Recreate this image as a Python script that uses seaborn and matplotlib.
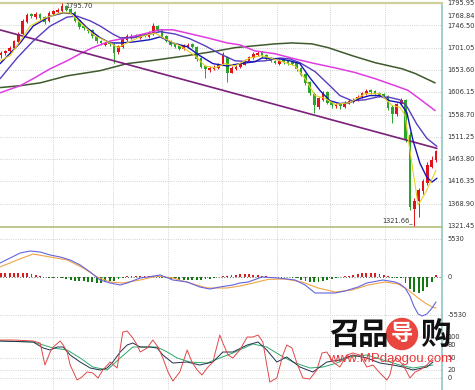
import numpy as np
import matplotlib
matplotlib.use("Agg")
import matplotlib.pyplot as plt
from matplotlib.patches import Ellipse
import seaborn as sns

sns.set_style("white")
plt.rcParams['font.family'] = ['DejaVu Sans']

# ---------------- candle data (one per bar) ----------------
opens = [1685, 1690, 1694, 1701, 1713, 1730, 1756, 1773, 1766, 1773,
         1766, 1757, 1773, 1777, 1779, 1789, 1783, 1777, 1760, 1747,
         1741, 1738, 1726, 1716, 1707, 1713, 1709, 1692, 1703, 1718,
         1722, 1728, 1722, 1730, 1724, 1730, 1747, 1738, 1726, 1716,
         1709, 1705, 1698, 1703, 1709, 1703, 1679, 1662, 1654, 1656,
         1658, 1665, 1681, 1648, 1656, 1660, 1665, 1673, 1679, 1686,
         1692, 1686, 1679, 1673, 1667, 1675, 1673, 1671, 1669, 1658,
         1645, 1628, 1603, 1575, 1590, 1607, 1586, 1576, 1582, 1574,
         1582, 1586, 1590, 1595, 1603, 1611, 1609, 1605, 1603, 1599,
         1575, 1560, 1582, 1590, 1515, 1358, 1374, 1396, 1412, 1448,
         1462]
closes = [1690, 1694, 1701, 1715, 1730, 1758, 1770, 1768, 1772, 1764,
          1756, 1775, 1779, 1781, 1789, 1781, 1775, 1758, 1745, 1743,
          1736, 1726, 1715, 1711, 1711, 1709, 1690, 1705, 1720, 1726,
          1726, 1724, 1728, 1726, 1732, 1747, 1736, 1724, 1715, 1707,
          1703, 1698, 1705, 1707, 1703, 1677, 1660, 1656, 1658, 1660,
          1667, 1686, 1648, 1658, 1660, 1667, 1673, 1681, 1688, 1690,
          1684, 1677, 1673, 1669, 1673, 1671, 1669, 1667, 1656, 1643,
          1626, 1605, 1578, 1593, 1605, 1584, 1578, 1580, 1576, 1584,
          1588, 1590, 1597, 1605, 1609, 1607, 1603, 1601, 1599, 1573,
          1560, 1582, 1590, 1505, 1362, 1374, 1398, 1418, 1452, 1462,
          1480]
highs = [1694, 1697, 1705, 1718, 1734, 1762, 1775, 1775, 1776, 1775,
         1768, 1778, 1782, 1785, 1795.7, 1791, 1785, 1779, 1762, 1750,
         1743, 1740, 1728, 1718, 1714, 1716, 1711, 1707, 1722, 1730,
         1729, 1730, 1731, 1732, 1736, 1753, 1749, 1740, 1728, 1718,
         1711, 1707, 1709, 1711, 1711, 1705, 1681, 1665, 1662, 1663,
         1669, 1692, 1683, 1661, 1663, 1669, 1676, 1684, 1691, 1694,
         1694, 1688, 1681, 1675, 1676, 1677, 1675, 1673, 1671, 1660,
         1648, 1630, 1606, 1596, 1608, 1609, 1588, 1584, 1584, 1587,
         1591, 1593, 1600, 1607, 1612, 1613, 1611, 1607, 1605, 1601,
         1578, 1584, 1594, 1592, 1522, 1380, 1402, 1422, 1458, 1470,
         1484]
lows = [1680, 1686, 1690, 1699, 1711, 1728, 1754, 1764, 1762, 1760,
        1752, 1755, 1771, 1775, 1777, 1779, 1773, 1755, 1741, 1739,
        1732, 1722, 1711, 1707, 1705, 1705, 1669, 1688, 1701, 1716,
        1720, 1722, 1720, 1724, 1722, 1728, 1734, 1722, 1713, 1705,
        1701, 1696, 1696, 1701, 1701, 1673, 1658, 1637, 1650, 1654,
        1656, 1663, 1628, 1646, 1654, 1658, 1663, 1671, 1677, 1684,
        1681, 1675, 1671, 1667, 1665, 1667, 1665, 1663, 1652, 1641,
        1622, 1601, 1562, 1571, 1588, 1580, 1573, 1573, 1570, 1572,
        1580, 1584, 1588, 1593, 1601, 1603, 1599, 1597, 1595, 1568,
        1541, 1556, 1578, 1500, 1355, 1321.66, 1340, 1390, 1408, 1444,
        1458]

# ---------------- moving averages (bar position, price) ----------------
ma5_x = [-0.2, 2.1, 4.4, 6.7, 10.1, 13.6, 15.9, 18.2, 21.6, 25.1, 26.9, 28.5, 32.0, 35.4,
         37.7, 41.1, 44.6, 46.9, 49.2, 51.5, 53.8, 57.2, 60.0, 64.1, 67.6, 69.9, 72.2, 74.5,
         76.8, 80.2, 83.7, 87.1, 89.9, 91.7, 92.9, 94.0, 95.9, 97.5, 98.6, 100.0]
ma5_y = [1673, 1684, 1715, 1747, 1764, 1775, 1775, 1754, 1726, 1711, 1701, 1709, 1724, 1732,
         1720, 1705, 1684, 1662, 1658, 1667, 1662, 1679, 1684, 1673, 1662, 1635, 1599, 1593,
         1580, 1584, 1603, 1603, 1578, 1574, 1557, 1482, 1366, 1391, 1412, 1440]
ma10_x = [-0.2, 4.4, 7.4, 11.3, 14.3, 16.6, 19.8, 22.8, 25.1, 27.4, 30.3, 34.3, 36.6, 39.5,
          42.8, 45.7, 48.7, 52.0, 54.9, 58.4, 60.0, 64.1, 66.4, 68.7, 71.0, 73.3, 75.6, 77.9,
          80.2, 82.5, 84.8, 87.1, 89.4, 91.7, 93.3, 94.7, 96.3, 97.9, 99.1, 100.2]
ma10_y = [1667, 1711, 1747, 1768, 1775, 1773, 1743, 1722, 1711, 1711, 1713, 1718, 1724, 1711,
          1703, 1684, 1667, 1662, 1667, 1671, 1679, 1677, 1673, 1667, 1637, 1610, 1588, 1582,
          1584, 1593, 1599, 1599, 1588, 1584, 1563, 1504, 1455, 1425, 1415, 1423]
ma20_x = [-0.2, 3.7, 7.4, 11.3, 15.2, 17.5, 20.5, 22.8, 25.7, 27.4, 30.3, 34.3, 36.6, 40.0,
          43.4, 46.9, 50.3, 53.8, 57.2, 60.7, 64.1, 66.4, 68.7, 72.2, 75.6, 77.9, 80.7, 83.7,
          87.1, 89.4, 91.7, 93.3, 95.6, 97.9, 100.2]
ma20_y = [1635, 1679, 1715, 1747, 1766, 1768, 1758, 1747, 1730, 1722, 1722, 1730, 1735, 1730,
          1720, 1705, 1688, 1673, 1671, 1673, 1679, 1677, 1669, 1650, 1620, 1599, 1588, 1590,
          1597, 1595, 1590, 1576, 1538, 1508, 1491]
ma60_x = [-0.2, 4.4, 7.4, 11.3, 15.2, 18.2, 21.1, 25.1, 29.0, 33.6, 36.6, 39.5, 42.8, 47.4,
          52.0, 54.9, 58.4, 63.0, 67.6, 72.2, 76.8, 81.4, 86.0, 90.6, 93.6, 96.8, 99.8]
ma60_y = [1605, 1620, 1635, 1656, 1673, 1688, 1701, 1715, 1722, 1732, 1739, 1739, 1732, 1722,
          1711, 1707, 1694, 1688, 1677, 1667, 1658, 1648, 1635, 1620, 1610, 1588, 1567]
ma120_x = [-0.2, 4.4, 9.0, 15.2, 22.8, 29.0, 34.3, 42.8, 49.7, 53.8, 58.4, 63.0, 66.9, 71.5,
           75.2, 80.7, 86.0, 92.2, 95.2, 99.8]
ma120_y = [1616, 1620, 1626, 1641, 1652, 1667, 1673, 1684, 1694, 1701, 1705, 1709, 1711, 1709,
           1701, 1684, 1669, 1656, 1646, 1626]
trend_x = [-0.2, 100.2]
trend_y = [1738.7, 1486.7]

# ---------------- MACD ----------------
macd_hist = [503, 503, 574, 574, 574, 503, 503, 431, 287, 72,
             -43, -72, -115, -172, -215, -359, -431, -503, -574, -646,
             -718, -790, -862, -862, -790, -646, -574, -359, -144, 72,
             144, 215, 215, 215, 215, 215, 144, -72, -172, -287,
             -359, -431, -431, -431, -431, -431, -431, -359, -287, -144,
             -43, 72, 215, 287, 359, 431, 431, 431, 359, 287,
             215, 72, 43, 29, 29, 29, -29, -72, -215, -431,
             -574, -718, -790, -718, -574, -431, -287, -144, -43, 72,
             215, 287, 431, 503, 574, 574, 503, 431, 287, 144,
             -72, -144, -215, -862, -1723, -2154, -2298, -2010, -1436, -718,
             287]
dif_x = [-0.2, 2.1, 4.4, 6.7, 9.0, 11.3, 13.6, 15.9, 18.2, 20.5, 22.8, 25.1, 27.4, 29.0,
         32.0, 35.2, 36.6, 39.5, 42.8, 45.7, 48.0, 50.3, 53.3, 54.9, 56.8, 60.0, 63.7, 67.6,
         69.9, 72.2, 74.5, 76.8, 79.1, 82.1, 84.1, 87.8, 90.6, 91.7, 92.9, 94.0, 94.9, 95.9,
         96.8, 97.9, 99.1, 100.0]
dif_y = [2010, 2728, 3446, 3734, 3590, 3159, 2872, 2441, 1723, 718, -431, -862, -1149, -862,
         -144, 144, 287, -431, -718, -1436, -1723, -1436, -1149, -862, -718, 0, -144, -431,
         -1149, -2298, -2298, -2298, -2010, -1436, -862, -431, -718, -1005, -1580, -2728, -4164,
         -5314, -5601, -5314, -4452, -3590]
dea_x = [-0.2, 3.7, 7.4, 11.3, 15.2, 18.9, 22.1, 25.1, 28.0, 32.0, 35.9, 39.5, 43.4, 47.4,
         52.0, 54.9, 57.7, 61.4, 65.3, 69.2, 72.9, 76.8, 80.7, 84.4, 88.3, 91.3, 93.6, 95.9,
         97.5, 99.1, 100.0]
dea_y = [1436, 2441, 3302, 2872, 2441, 1292, 0, -718, -862, -431, 144, -144, -862, -1580,
         -1580, -1300, -900, -350, -287, -718, -1580, -2154, -1867, -1149, -718, -1005, -1867,
         -3015, -3734, -4308, -4452]

# ---------------- KDJ ----------------
j_x = [-0.2, 2.8, 7.4, 9.0, 10.1, 11.3, 12.0, 13.6, 14.3, 15.2, 15.9, 17.5, 18.6, 19.8, 21.1,
       22.3, 23.4, 25.1, 26.7, 28.0, 29.0, 30.3, 31.3, 32.0, 33.6, 34.9, 36.1, 37.2, 38.4, 39.5,
       41.1, 42.8, 43.9, 45.1, 46.2, 47.4, 48.7, 50.3, 51.0, 52.2, 53.3, 54.9, 56.6, 57.9, 59.1,
       60.2, 61.1, 61.8, 63.4, 64.8, 65.7, 66.9, 68.0, 69.4, 71.0, 72.6, 73.8, 74.9, 76.3, 77.9,
       79.5, 80.9, 82.5, 84.1, 85.5, 87.1, 88.7, 89.4, 90.1, 91.0, 92.4, 93.3, 94.0, 95.2, 96.3,
       97.9, 99.3]
j_y = [92.7, 92.7, 90.3, 85.4, 31.7, 63.4, 75.6, 90.3, 80.5, 63.4, 31.7, -4.9, 2.4, 14.6, 12.2,
       0, 19.5, 39, 24.4, 112.2, 114.7, 97.6, 80.5, 63.4, 73.2, 92.7, 75.6, 48.8, 14.6, -7.3,
       14.6, 68.3, 39, 19.5, 7.3, 24.4, 39, 104.9, 85.4, 56.1, 48.8, 68.3, 100, 100, 104.9,
       87.8, 31.7, -9.8, 0, 56.1, 80.5, 73.2, 36.6, 0, -2.4, 19.5, 61, 63.4, 39, 26.8,
       56.1, 61, 56.1, 26.8, 31.7, 12.2, -4.9, 7.3, 39, 48.8, 31.7, 14.6, 0, 14.6, 19.5,
       31.7, 48.8]
k_x = [-0.2, 7.4, 9.7, 11.3, 12.9, 14.3, 15.9, 18.2, 20.5, 22.8, 24.4, 25.7, 27.4, 29.0, 30.3,
       32.0, 34.3, 35.9, 37.2, 39.5, 42.8, 45.7, 48.7, 51.0, 53.3, 56.6, 59.1, 61.1, 63.4, 65.7,
       68.7, 71.7, 74.9, 77.9, 80.9, 84.1, 87.1, 90.1, 92.4, 94.7, 97.9, 99.3]
k_y = [90.3, 87.8, 73.2, 68.3, 75.6, 75.6, 56.1, 39, 24.4, 19.5, 24.4, 39, 63.4, 80.5, 85.4,
       75.6, 75.6, 73.2, 56.1, 36.6, 39, 31.7, 39, 63.4, 63.4, 80.5, 87.8, 68.3, 39, 51.2,
       26.8, 14.6, 39, 43.9, 56.1, 48.8, 36.6, 31.7, 26.8, 19.5, 26.8, 39]
d_x = [-0.2, 7.4, 9.7, 12.0, 15.2, 18.2, 21.1, 24.4, 27.4, 30.3, 32.6, 35.9, 38.2, 40.5, 43.4,
       47.4, 50.3, 53.3, 57.9, 61.1, 64.1, 67.1, 71.0, 74.0, 77.2, 80.2, 84.1, 87.8, 91.7, 94.7,
       99.3]
d_y = [90.3, 87.8, 80.5, 73.2, 68.3, 48.8, 26.8, 19.5, 48.8, 75.6, 75.6, 75.6, 63.4, 48.8, 39,
       36.6, 48.8, 61, 83, 75.6, 56.1, 39, 24.4, 26.8, 36.6, 51.2, 56.1, 43.9, 31.7, 24.4,
       31.7]

# ---------------- axis labels ----------------
price_labels = [1795.95, 1768.84, 1746.50, 1701.05, 1653.60, 1606.15, 1558.70,
                1511.25, 1463.80, 1416.35, 1368.90, 1321.45]
price_grid = [1748.50, 1701.05, 1653.60, 1606.15, 1558.70, 1511.25, 1463.80, 1416.35, 1368.90]
macd_labels = [5530, 0, -5530]
kdj_labels = [100, 80, 50, 20, 0]
kdj_grid = [100, 50, 20, 0]
vgrid = [12.0, 25.7, 38.4, 50.8, 63.4, 75.6, 88.3]

RED = '#e0141a'
GREEN = '#2aa52a'

W, H = 475, 390
fig = plt.figure(figsize=(4.75, 3.9), dpi=100)


def rect(x0, y0, x1, y1):
    return [x0 / W, 1 - y1 / H, (x1 - x0) / W, (y1 - y0) / H]


ax = fig.add_axes(rect(0, 3, 442, 227))
axm = fig.add_axes(rect(0, 228, 442, 326))
axk = fig.add_axes(rect(0, 326, 442, 390))

XL = (-0.23, 101.38)
grid_kw = dict(color='#c4c4c4', lw=0.6, ls=(0, (1, 1.6)), zorder=0)
for a in (ax, axm, axk):
    a.set_xlim(*XL)
    a.set_xticks([])
    a.set_yticks([])
    for s in a.spines.values():
        s.set_visible(False)
    a.spines['right'].set_visible(True)
    a.spines['right'].set_color('#8cc6c6')
    a.spines['right'].set_linewidth(1.2)
    for v in vgrid:
        a.axvline(v, **grid_kw)

ax.spines['top'].set_visible(True)
ax.spines['top'].set_color('#cfcf9a')
ax.spines['top'].set_linewidth(1.6)
ax.spines['bottom'].set_visible(True)
ax.spines['bottom'].set_color('#b4bc7c')
ax.spines['bottom'].set_linewidth(1.2)

# ---- main price panel ----
ax.set_ylim(1319.3, 1796.0)
for g in price_grid:
    ax.axhline(g, **grid_kw)

o = np.array(opens, float)
c = np.array(closes, float)
hi = np.array(highs, float)
lo = np.array(lows, float)
idx = np.arange(len(c))
cols = np.where(c >= o, RED, GREEN)
ax.vlines(idx, lo, hi, colors=cols, lw=0.7, zorder=3)
body = np.maximum(np.abs(c - o), 1.5)
ax.bar(idx, body, bottom=np.minimum(o, c), width=0.62, color=cols, lw=0, zorder=4)

line_kw = dict(estimator=None, sort=False, legend=False)
sns.lineplot(x=ma120_x, y=ma120_y, ax=ax, color='#3f5a2c', lw=1.1, zorder=5, **line_kw)
sns.lineplot(x=ma60_x, y=ma60_y, ax=ax, color='#e03ce0', lw=1.1, zorder=5, **line_kw)
sns.lineplot(x=trend_x, y=trend_y, ax=ax, color='#7a1f7a', lw=1.2, zorder=5, **line_kw)
sns.lineplot(x=ma20_x, y=ma20_y, ax=ax, color='#5a3cc0', lw=1.0, zorder=6, **line_kw)
sns.lineplot(x=ma10_x, y=ma10_y, ax=ax, color='#1616b8', lw=1.0, zorder=6, **line_kw)
sns.lineplot(x=ma5_x, y=ma5_y, ax=ax, color='#e8d020', lw=0.8, zorder=6, **line_kw)

lab_kw = dict(fontsize=4.8, color='#333333', va='center', ha='left', clip_on=False)
for v in price_labels:
    ax.text(1.013, v, f"{v:.2f}", transform=ax.get_yaxis_transform(), **lab_kw)
ax.text(14.7, 1790.5, "1795.70", fontsize=4.8, color='#333333', va='center', ha='left')
ax.text(94.6, 1332, "1321.66_", fontsize=4.8, color='#333333', va='center', ha='right')

# ---- MACD panel ----
axm.set_ylim(-7040, 7040)
for g in (5530, -5530):
    axm.axhline(g, **grid_kw)
axm.axhline(0, color='#222222', lw=0.6, ls=(0, (1, 2.4)), zorder=1)
h = np.array(macd_hist, float)
axm.bar(idx, h, width=0.42, color=np.where(h >= 0, '#d42020', '#137a13'), lw=0, zorder=2)
sns.lineplot(x=dea_x, y=dea_y, ax=axm, color='#f0a448', lw=0.8, zorder=3, **line_kw)
sns.lineplot(x=dif_x, y=dif_y, ax=axm, color='#6464e0', lw=0.8, zorder=3, **line_kw)
for v in macd_labels:
    axm.text(1.013, v, f"{v}", transform=axm.get_yaxis_transform(), **lab_kw)

# ---- KDJ panel ----
axk.set_ylim(-29.3, 126.9)
for g in kdj_grid:
    axk.axhline(g, **grid_kw)
sns.lineplot(x=d_x, y=d_y, ax=axk, color='#2fa868', lw=0.7, zorder=3, **line_kw)
sns.lineplot(x=k_x, y=k_y, ax=axk, color='#22304e', lw=0.7, zorder=3, **line_kw)
sns.lineplot(x=j_x, y=j_y, ax=axk, color='#e04848', lw=0.7, zorder=3, **line_kw)
for v in kdj_labels:
    axk.text(1.013, v, f"{v}", transform=axk.get_yaxis_transform(), **lab_kw)

# ---- watermark ----
cjk = ['Noto Sans CJK SC', 'DejaVu Sans']
wy = 1 - 335 / H
for ch, px in (("召", 344), ("品", 373), ("购", 435)):
    fig.text(px / W, wy, ch, fontsize=22, fontweight='bold', family=cjk,
             color='#111111', ha='center', va='center', zorder=20)
fig.add_artist(Ellipse((402 / W, 1 - 334 / H), 31 / W, 31 / H, transform=fig.transFigure,
                       color='#e8463e', zorder=19))
fig.text(402 / W, 1 - 334 / H, "导", fontsize=16, fontweight='bold', family=cjk,
         color='white', ha='center', va='center', zorder=21)
fig.text(390 / W, 1 - 359 / H, "www.MPdaogou.com", fontsize=9.5, family=['Liberation Sans'],
         color='#e8383c', ha='center', va='center', zorder=20)

fig.savefig("out.png", dpi=100)
